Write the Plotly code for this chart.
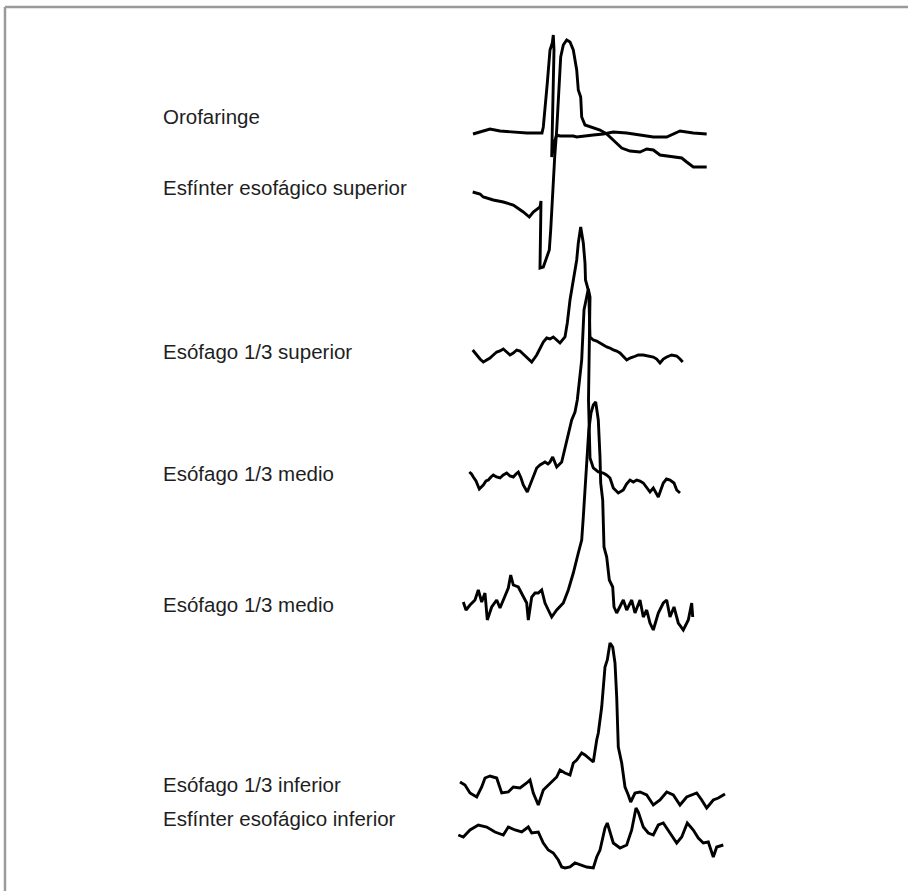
import plotly.graph_objects as go

# Manometry tracings of a swallow: time samples and pressure (relative to each
# channel's resting level) for every recording site.

channels = [
    "Orofaringe",
    "Esfínter esofágico superior",
    "Esófago 1/3 superior",
    "Esófago 1/3 medio",
    "Esófago 1/3 medio",
    "Esófago 1/3 inferior",
    "Esfínter esofágico inferior",
]

t_orofaringe = [473, 480, 490, 500, 510, 527, 542, 543.3, 547.3, 550, 552.3, 553.3, 554, 552.7,
                551.7, 555, 556.7, 560, 573.3, 576.7, 583.3, 593.3, 603.3, 613.3, 626.7, 640,
                653.3, 666.7, 680, 693.3, 706.7]
p_orofaringe = [-1, 1, 4, 2, 1, 0, 0, 6, 50, 83, 90, 98, 83, 36,
                -24, -7, -2, -3, -3, -4, -3, -2, -1, 1, 0, -2,
                -4, -4, 2, 0, -1]

t_ees = [472.7, 480, 483.3, 493.3, 503.3, 513.3, 523.3, 529.3, 533.3, 540, 541, 540.7, 540,
         543.3, 547.3, 549.3, 550.7, 552.7, 554.7, 556.7, 558.3, 560.7, 563.3, 566.7, 570,
         573.3, 576.7, 578.3, 580.7, 581.7, 585, 591.7, 600, 606.7, 613.3, 618.3, 621.7,
         630, 640, 646.7, 653.3, 660, 673.3, 681.7, 686.7, 693.3, 706.7]
p_ees = [0, -2, -5, -8, -10, -13, -20, -25, -20, -15, -9, -38, -76,
         -75, -65, -58, -38, 2, 35, 62, 95, 135, 147, 152, 150,
         142, 122, 102, 95, 75, 67, 65, 62, 58, 52, 47, 44,
         41, 40, 43, 42, 37, 35, 34, 30, 25, 25]

t_sup = [472.7, 476.7, 480, 483.3, 486.7, 490, 493.3, 496.7, 500, 503.3, 506.7, 510, 513.3,
         516.7, 520, 523.3, 526.7, 531.7, 536.7, 543.3, 546.7, 550, 553.3, 556.7, 560, 565,
         567.3, 570, 573.3, 576.7, 578.3, 580.7, 583.3, 585, 585.5, 588.3, 589, 590, 593.3,
         596.7, 600, 603.3, 606.7, 610, 613.3, 616.7, 620, 626.7, 630, 633.3, 638.3, 643.3,
         648.3, 653.3, 656.7, 660, 663.3, 666.7, 671.7, 676.7, 680, 682.7]
p_sup = [5, 0, -4, -7, -5, -3, 0, 3, 4, 6, 3, 0, 2,
         5, 4, 1, -2, -7, 0, 13, 17, 16, 18, 15, 12, 18,
         32, 55, 75, 95, 112, 128, 112, 92, 75, 65, 55, 18, 15,
         14, 12, 10, 8, 7, 5, 4, 2, -5, -3, -2, 0, 0,
         -1, -2, -4, -8, -4, -2, 0, -1, -4, -7]

t_medio_a = [469.3, 471.5, 473.3, 476, 479.3, 481.5, 483.3, 486, 488.3, 491, 493.3, 496.5, 500,
             503.3, 506.7, 510, 513.3, 516, 518.3, 521, 523.3, 527.3, 531.7, 536.7, 540, 545,
             548, 550, 552.7, 556.7, 561.7, 566.7, 571.7, 575, 577.3, 579.5, 581.7, 584, 586.7,
             588.3, 590, 589.5, 588.5, 590, 593.3, 598.3, 603.3, 606.5, 610, 613.3, 618.3,
             623.3, 626.5, 630, 633.3, 636.7, 640, 643.3, 646.5, 650, 653.3, 658.3, 663.3,
             666.5, 670, 674, 676.7, 680]
p_medio_a = [6, 4, 1, -3, -11, -9, -7, -3, -2, 1, 3, 1, 0,
             3, 5, 2, 1, 4, 6, 0, -7, -14, -2, 10, 13, 16,
             14, 16, 21, 11, 16, 38, 58, 66, 78, 98, 118, 168, 181,
             189, 181, 138, 78, 20, 10, 6, 5, 3, 0, -10, -15,
             -12, -6, -2, -4, -2, -3, -5, -9, -14, -10, -19, -5,
             -1, -2, -5, -12, -15]

t_medio_b = [463.3, 466, 470, 475, 478.3, 481.7, 485, 487.3, 491.7, 496.7, 500, 505, 508.3,
             510.7, 513.3, 518.3, 523.3, 526.7, 528.3, 531.7, 535, 538.3, 541.7, 545, 548.3,
             551.7, 556.7, 563.3, 568.3, 573.3, 578.3, 581.7, 583.3, 586.5, 588.8, 591, 593.3,
             595.7, 598.3, 600, 600.7, 602.7, 604, 606.7, 609.3, 612.7, 614, 616.7, 620, 623.3,
             626.7, 631.7, 635, 640, 643.3, 646.7, 650, 653.3, 658.3, 663.3, 666.7, 670, 674,
             678.3, 683.3, 688.3, 691.7, 692.7]
p_medio_b = [1, -7, -2, 3, 13, 1, 10, -17, -4, 3, -5, 6, 15,
             28, 18, 16, 6, 0, -17, 6, 10, 10, 13, 0, -7,
             -14, -7, 0, 13, 30, 50, 63, 86, 136, 173, 190, 198,
             201, 183, 146, 120, 103, 56, 46, 23, 16, -4, -10, -4, 3,
             -7, 3, -10, 3, -14, -7, -20, -27, -10, 0, 3, -14, -4,
             -20, -27, -17, 0, -14]

t_inf = [460, 465, 470, 476.7, 481.7, 485, 490, 496.7, 501.7, 508.3, 513.3, 520, 526.7, 530,
         533.3, 538.3, 543.3, 550, 556.7, 560, 565, 570, 573.3, 576.7, 581.7, 585, 588.3,
         593.3, 596.7, 598.3, 601.7, 605, 607.3, 610, 612.7, 615, 616.7, 618.3, 621.7, 625,
         628.3, 630.7, 635, 640, 646.7, 653.3, 660, 666.7, 673.3, 680, 686.7, 696.7, 701.7,
         706.7, 713.3, 718.3, 725]
p_inf = [8, 5, -3, -7, 3, 12, 14, 12, -3, -2, 3, 2, 7, 10,
         -3, -15, 0, 7, 13, 20, 17, 15, 27, 30, 37, 35, 32,
         28, 50, 57, 83, 123, 130, 147, 143, 127, 93, 43, 27, 3,
         -5, -12, -3, -2, -5, -15, -10, -2, -5, -15, -7, -3, -10,
         -18, -10, -8, -4]

t_eei = [458.3, 463.3, 470, 478.3, 486.7, 495, 503.3, 508.3, 515, 521.7, 528.3, 531.7, 538.3,
         543.3, 548.3, 553.3, 558.3, 561.7, 565, 570, 575, 581.7, 586.7, 593.3, 596.7, 600,
         602.7, 605, 607.3, 610, 613.3, 620, 626.7, 631.7, 636, 638.3, 643.3, 648.3, 653.3,
         658.3, 663.3, 670, 676.7, 681.7, 687.3, 693.3, 698.3, 703.3, 708.3, 713.3, 716.7,
         723.3]
p_eei = [-5, -7, 0, 5, 3, -2, -5, 3, 0, -2, 3, -3, -2,
         -13, -20, -23, -30, -37, -38, -37, -33, -35, -37, -38, -27, -20,
         -7, 2, 7, -3, -13, -18, -15, 0, 22, 18, 3, -3, -5,
         5, 7, -3, -13, -7, 7, 0, -8, -13, -12, -27, -17,
         -15]

series = [
    (t_orofaringe, p_orofaringe),
    (t_ees, p_ees),
    (t_sup, p_sup),
    (t_medio_a, p_medio_a),
    (t_medio_b, p_medio_b),
    (t_inf, p_inf),
    (t_eei, p_eei),
]

# Layout: vertical resting level of each channel and where its label sits
W, H = 908, 891
trace_levels = [133, 192, 355, 478, 603, 790, 830]       # measured from top
label_levels = [116, 187, 351, 473, 604, 784, 818]       # measured from top
label_x = 161

fig = go.Figure()
for (t, p), lvl in zip(series, trace_levels):
    base = H - lvl
    fig.add_trace(go.Scatter(
        x=t, y=[base + v for v in p], mode="lines",
        line=dict(color="#000000", width=2.9, shape="linear"),
        hoverinfo="skip", showlegend=False,
    ))

for name, lvl in zip(channels, label_levels):
    fig.add_annotation(
        x=label_x, y=H - lvl, text=name, showarrow=False,
        xanchor="left", yanchor="middle",
        font=dict(family="Liberation Sans, Arial, Helvetica, sans-serif", size=20.5, color="#1e1e1e"),
    )

# Grey frame along the top and left edges
frame = dict(color="#9a9a9a", width=2.5)
fig.add_shape(type="line", xref="x", yref="y", x0=5, x1=W, y0=H - 7, y1=H - 7, line=frame)
fig.add_shape(type="line", xref="x", yref="y", x0=5, x1=5, y0=H - 7, y1=0, line=frame)

fig.update_layout(
    width=W, height=H,
    margin=dict(l=0, r=0, t=0, b=0),
    paper_bgcolor="white", plot_bgcolor="white",
    xaxis=dict(range=[0, W], visible=False, fixedrange=True),
    yaxis=dict(range=[0, H], visible=False, fixedrange=True),
)

fig.write_html("out.html")
